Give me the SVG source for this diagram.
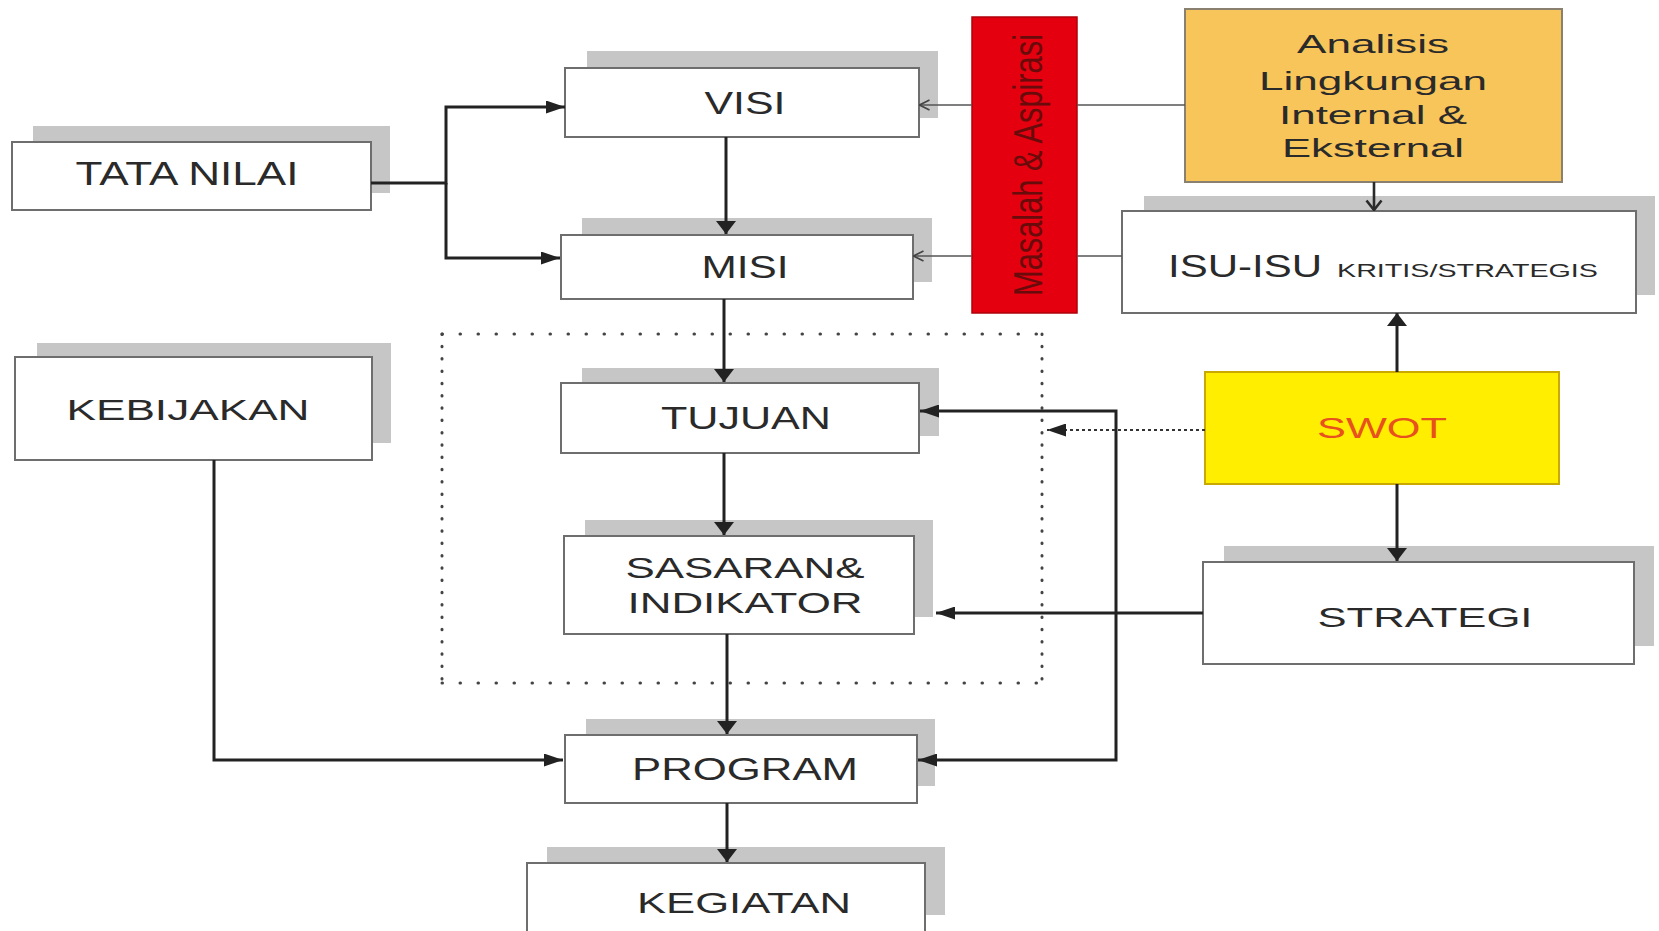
<svg xmlns="http://www.w3.org/2000/svg" width="1659" height="931" viewBox="0 0 1659 931">
<style>
  .sh{fill:#c6c6c6;stroke:none}
  .bx{fill:#fff;stroke:#6e6e6e;stroke-width:2}
  .t{font-family:"Liberation Sans",Arial,sans-serif;fill:#2a2a2a;text-anchor:middle}
  .c{fill:none;stroke:#222;stroke-width:3}
  .thin{fill:none;stroke:#555;stroke-width:1.6}
  .dot{fill:none;stroke:#444;stroke-width:3;stroke-linecap:round}
</style>
<defs>
  <marker id="ah" viewBox="0 0 19 13" refX="19" refY="6.5" markerWidth="19" markerHeight="13" markerUnits="userSpaceOnUse" orient="auto"><path d="M0,0 L19,6.5 L0,13 Z" fill="#222"/></marker>
  <marker id="av" viewBox="0 0 13 20" refX="13" refY="10" markerWidth="13" markerHeight="20" markerUnits="userSpaceOnUse" orient="auto"><path d="M0,0 L13,10 L0,20 Z" fill="#222"/></marker>
  <marker id="ao" viewBox="0 0 12 12" refX="11.5" refY="6" markerWidth="12" markerHeight="12" markerUnits="userSpaceOnUse" orient="auto"><path d="M1,1 L11,6 L1,11" fill="none" stroke="#444" stroke-width="1.6"/></marker>
  <marker id="aov" viewBox="0 0 12 18" refX="11" refY="9" markerWidth="12" markerHeight="18" markerUnits="userSpaceOnUse" orient="auto"><path d="M1.5,1.5 L11,9 L1.5,16.5" fill="none" stroke="#2a2a2a" stroke-width="2.6"/></marker>
</defs>
<rect width="1659" height="931" fill="#fff"/>

<g id="dotted-frame">
  <path class="dot" d="M442,334 H1042" stroke-dasharray="0.5 17.5"/>
  <path class="dot" d="M442,683 H1042" stroke-dasharray="0.5 17.5"/>
  <path class="dot" d="M442,334 V683" stroke-dasharray="0.5 11.8"/>
  <path class="dot" d="M1042,334 V683" stroke-dasharray="0.5 11.8"/>
</g>

<g id="tata-nilai">
  <rect class="sh" x="33" y="126" width="357" height="67"/>
  <rect class="bx" x="12" y="142" width="359" height="68"/>
  <text class="t" x="187" y="185" font-size="32.5" textLength="223" lengthAdjust="spacingAndGlyphs">TATA NILAI</text>
</g>
<g id="visi">
  <rect class="sh" x="587" y="51" width="351" height="67"/>
  <rect class="bx" x="565" y="68" width="354" height="69"/>
  <text class="t" x="745" y="114" font-size="32" textLength="81" lengthAdjust="spacingAndGlyphs">VISI</text>
</g>
<g id="misi">
  <rect class="sh" x="582" y="218" width="350" height="64"/>
  <rect class="bx" x="561" y="235" width="352" height="64"/>
  <text class="t" x="745" y="278" font-size="31" textLength="87" lengthAdjust="spacingAndGlyphs">MISI</text>
</g>
<g id="tujuan">
  <rect class="sh" x="582" y="368" width="357" height="68"/>
  <rect class="bx" x="561" y="383" width="358" height="70"/>
  <text class="t" x="746" y="429" font-size="31" textLength="170" lengthAdjust="spacingAndGlyphs">TUJUAN</text>
</g>
<g id="sasaran">
  <rect class="sh" x="585" y="520" width="348" height="97"/>
  <rect class="bx" x="564" y="536" width="350" height="98"/>
  <text class="t" x="745" y="578" font-size="29.5" textLength="239" lengthAdjust="spacingAndGlyphs">SASARAN&amp;</text>
  <text class="t" x="745" y="613" font-size="29.5" textLength="235" lengthAdjust="spacingAndGlyphs">INDIKATOR</text>
</g>
<g id="program">
  <rect class="sh" x="586" y="719" width="349" height="67"/>
  <rect class="bx" x="565" y="735" width="352" height="68"/>
  <text class="t" x="745" y="780" font-size="32" textLength="226" lengthAdjust="spacingAndGlyphs">PROGRAM</text>
</g>
<g id="kegiatan">
  <rect class="sh" x="547" y="847" width="398" height="68"/>
  <rect class="bx" x="527" y="863" width="398" height="80"/>
  <text class="t" x="744" y="913" font-size="29.5" textLength="214" lengthAdjust="spacingAndGlyphs">KEGIATAN</text>
</g>
<g id="kebijakan">
  <rect class="sh" x="37" y="343" width="354" height="100"/>
  <rect class="bx" x="15" y="357" width="357" height="103"/>
  <text class="t" x="188" y="420" font-size="30" textLength="243" lengthAdjust="spacingAndGlyphs">KEBIJAKAN</text>
</g>
<g id="masalah-aspirasi">
  <rect x="972" y="17" width="105" height="296" fill="#e5000f" stroke="#b0000a" stroke-width="1.5"/>
  <text class="t" transform="translate(1042,165) rotate(-90)" font-size="40" style="fill:#6a0b0b" textLength="262" lengthAdjust="spacingAndGlyphs">Masalah &amp; Aspirasi</text>
</g>
<g id="analisis">
  <rect x="1185" y="9" width="377" height="173" fill="#f8c55a" stroke="#8a8070" stroke-width="2"/>
  <text class="t" x="1373" y="53" font-size="25.5" textLength="152" lengthAdjust="spacingAndGlyphs">Analisis</text>
  <text class="t" x="1373" y="90" font-size="25.5" textLength="228" lengthAdjust="spacingAndGlyphs">Lingkungan</text>
  <text class="t" x="1373" y="124" font-size="25.5" textLength="188" lengthAdjust="spacingAndGlyphs">Internal &amp;</text>
  <text class="t" x="1373" y="157" font-size="25.5" textLength="182" lengthAdjust="spacingAndGlyphs">Eksternal</text>
</g>
<g id="isu-isu">
  <rect class="sh" x="1144" y="196" width="511" height="99"/>
  <rect class="bx" x="1122" y="211" width="514" height="102"/>
  <text class="t" x="1168" y="277" font-size="30.5" style="text-anchor:start" textLength="154" lengthAdjust="spacingAndGlyphs">ISU-ISU</text>
  <text class="t" x="1337" y="277" font-size="18.6" style="text-anchor:start" textLength="261" lengthAdjust="spacingAndGlyphs">KRITIS/STRATEGIS</text>
</g>
<g id="swot">
  <rect x="1205" y="372" width="354" height="112" fill="#ffee00" stroke="#c9a800" stroke-width="2"/>
  <text class="t" x="1382" y="438" font-size="29" style="fill:#e8501e" textLength="130" lengthAdjust="spacingAndGlyphs">SWOT</text>
</g>
<g id="strategi">
  <rect class="sh" x="1224" y="546" width="430" height="100"/>
  <rect class="bx" x="1203" y="562" width="431" height="102"/>
  <text class="t" x="1425" y="627" font-size="28" textLength="215" lengthAdjust="spacingAndGlyphs">STRATEGI</text>
</g>

<g id="connectors">
  <path class="c" d="M371,183 H446 V107 H565" marker-end="url(#ah)"/>
  <path class="c" d="M446,183 V258 H560" marker-end="url(#ah)"/>
  <path class="c" d="M726,137 V234" marker-end="url(#av)"/>
  <path class="c" d="M724,299 V382" marker-end="url(#av)"/>
  <path class="c" d="M724,453 V535" marker-end="url(#av)"/>
  <path class="c" d="M727,634 V734" marker-end="url(#av)"/>
  <path class="c" d="M727,803 V862" marker-end="url(#av)"/>
  <path class="c" d="M214,460 V760 H563" marker-end="url(#ah)"/>
  <path class="c" d="M1116,613 V411 H920" marker-end="url(#ah)"/>
  <path class="c" d="M1116,613 V760 H918" marker-end="url(#ah)"/>
  <path class="c" d="M1203,613 H936" marker-end="url(#ah)"/>
  <path class="c" d="M1397,484 V561" marker-end="url(#av)"/>
  <path class="c" d="M1397,372 V313" marker-end="url(#av)"/>
  <path d="M1374,182 V210" fill="none" stroke="#2a2a2a" stroke-width="2.6" marker-end="url(#aov)"/>
  <path class="thin" d="M972,105 H919" marker-end="url(#ao)"/>
  <path class="thin" d="M972,256 H913" marker-end="url(#ao)"/>
  <path class="thin" d="M1077,105 H1185"/>
  <path class="thin" d="M1077,256 H1122"/>
  <path d="M1205,430 H1047" fill="none" stroke="#333" stroke-width="2.2" stroke-dasharray="3 3" marker-end="url(#ah)"/>
</g>
</svg>
